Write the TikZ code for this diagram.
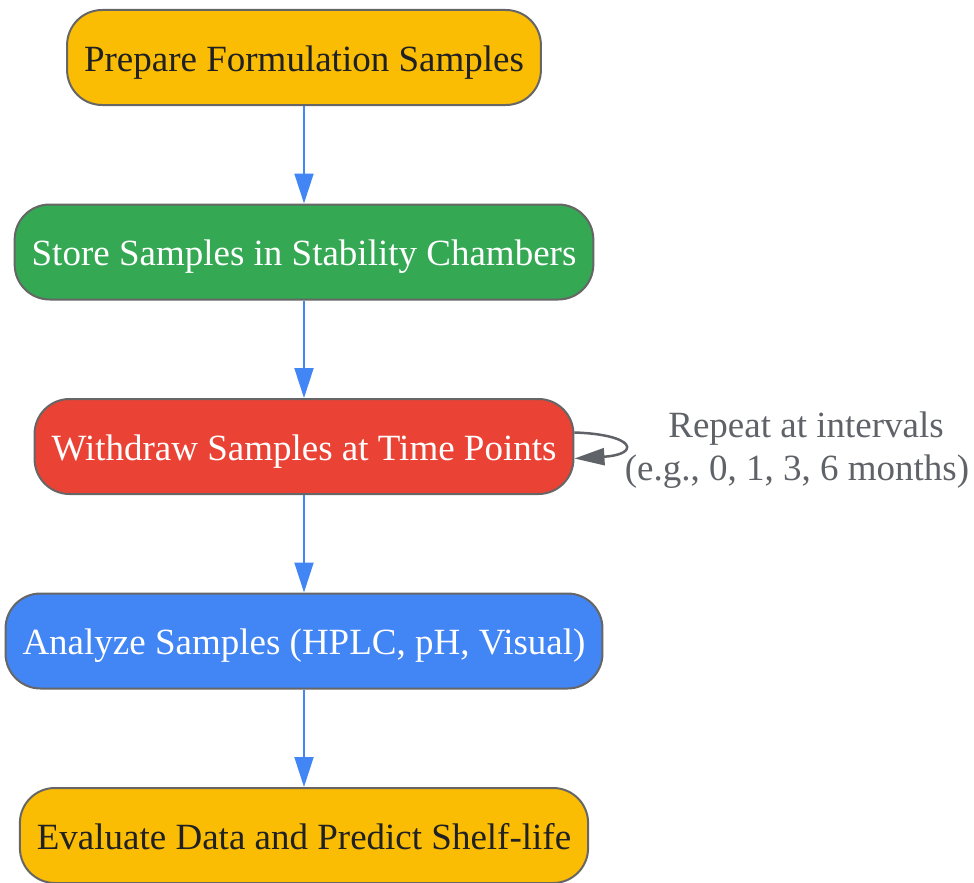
\documentclass[tikz,border=0pt]{standalone}
\usepackage{fontspec}
\setmainfont{Liberation Serif}
\usetikzlibrary{positioning,arrows.meta}
\definecolor{gyellow}{HTML}{FBBC04}
\definecolor{ggreen}{HTML}{34A853}
\definecolor{gred}{HTML}{EA4335}
\definecolor{gblue}{HTML}{4285F4}
\definecolor{gdark}{HTML}{202124}
\definecolor{ggray}{HTML}{5F6368}
\definecolor{gborder}{HTML}{666666}
\begin{document}
\begin{tikzpicture}[x=1pt, y=1pt, node distance=97.5pt,
    every node/.style = {font=\fontsize{37}{43}\selectfont},
    stage/.style = {shape=rectangle, rounded corners=35pt, draw=gborder, line width=2pt,
                    minimum height=95pt, inner xsep=17pt, text height=35pt, text depth=8pt},
    flow/.style = {draw=gblue, line width=2pt, -{Triangle[length=30pt, width=19pt]}},
    again/.style = {draw=ggray, line width=2.5pt, -{Triangle[length=30pt, width=17pt]}}]
  \useasboundingbox (0,0) rectangle (974,-883);
  \node[stage, fill=gyellow, text=gdark] (prepare) at (304,-57.5) {Prepare Formulation Samples};
  \node[stage, fill=ggreen, text=white, below=of prepare] (store) {Store Samples in Stability Chambers};
  \node[stage, fill=gred, text=white, below=of store] (withdraw) {Withdraw Samples at Time Points};
  \node[stage, fill=gblue, text=white, below=of withdraw] (analyze) {Analyze Samples (HPLC, pH, Visual)};
  \node[stage, fill=gyellow, text=gdark, below=of analyze] (evaluate) {Evaluate Data and Predict Shelf-life};
  \node[text=ggray, align=center] (repeat) at (797,-450) {\hspace*{18pt}Repeat at intervals\\(e.g., 0, 1, 3, 6 months)};
  \draw[flow] (prepare) -- (store);
  \draw[flow] (store) -- (withdraw);
  \draw[flow] (withdraw) -- (analyze);
  \draw[flow] (analyze) -- (evaluate);
  \draw[again] ([yshift=14pt]withdraw.east) .. controls +(62,-2) and +(66,4) .. ([yshift=-12pt]withdraw.east);
\end{tikzpicture}
\end{document}
